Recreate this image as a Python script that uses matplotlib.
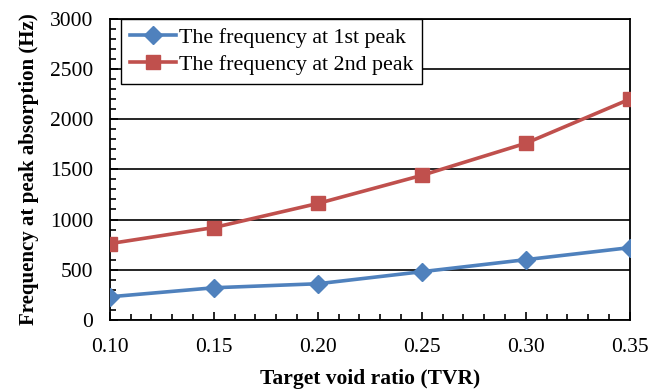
import matplotlib
matplotlib.use("Agg")
import matplotlib.pyplot as plt
from matplotlib.ticker import MultipleLocator, FormatStrFormatter

plt.rcParams['font.family'] = ['Liberation Serif', 'DejaVu Serif']

tvr = [0.10, 0.15, 0.20, 0.25, 0.30, 0.35]
freq_1st = [230, 320, 360, 480, 600, 720]
freq_2nd = [760, 920, 1160, 1440, 1760, 2200]

blue = '#4F81BD'
red = '#C0504D'

fig = plt.figure(figsize=(6.5, 3.92), dpi=100)
ax = fig.add_axes([0.169, 0.184, 0.8, 0.768])

ax.plot(tvr, freq_1st, color=blue, lw=2.6, marker='D', ms=9,
        label='The frequency at 1st peak', zorder=3)
ax.plot(tvr, freq_2nd, color=red, lw=2.6, marker='s', ms=10.5,
        label='The frequency at 2nd peak', zorder=3)

ax.set_xlim(0.10, 0.35)
ax.set_ylim(0, 3000)
ax.xaxis.set_major_locator(MultipleLocator(0.05))
ax.xaxis.set_minor_locator(MultipleLocator(0.01))
ax.xaxis.set_major_formatter(FormatStrFormatter('%.2f'))
ax.yaxis.set_major_locator(MultipleLocator(500))
ax.yaxis.set_minor_locator(MultipleLocator(100))

ax.grid(axis='y', which='major', color='black', lw=1.2, zorder=1)
ax.tick_params(which='both', direction='in', width=1.2, labelsize=15.5,
               color='black', top=False, right=False)
ax.tick_params(which='major', length=6)
ax.tick_params(which='minor', length=4)
ax.tick_params(axis='x', pad=13)
ax.tick_params(axis='y', pad=12)
for s in ax.spines.values():
    s.set_linewidth(1.3)
    s.set_color('black')

ax.set_xlabel('Target void ratio (TVR)', fontsize=15.5, fontweight='bold', labelpad=9)
ax.set_ylabel('Frequency at peak absorption (Hz)', fontsize=15, fontweight='bold', labelpad=8)

leg = ax.legend(loc='upper left', bbox_to_anchor=(0.021, 1.0), fontsize=15.8,
                frameon=True, fancybox=False, framealpha=1, edgecolor='black',
                borderpad=0.4, handlelength=2.1, labelspacing=0.3,
                handletextpad=0.15, borderaxespad=0)
leg.get_frame().set_linewidth(1.0)

fig.savefig('out.png', dpi=100)
